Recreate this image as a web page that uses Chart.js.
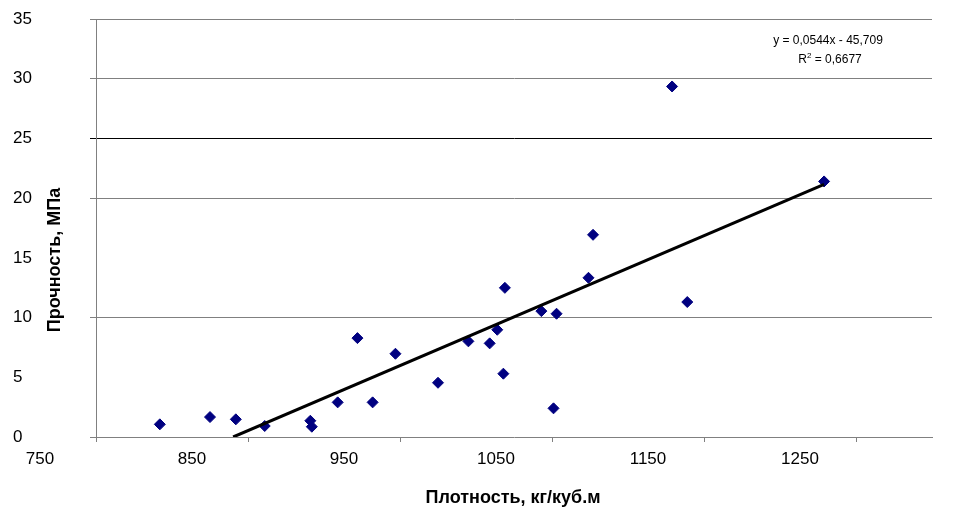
<!DOCTYPE html>
<html>
<head>
<meta charset="utf-8">
<script src="https://cdn.jsdelivr.net/npm/chart.js@4.4.1/dist/chart.umd.min.js"></script>
<style>
  html, body { margin: 0; padding: 0; background: #fff; }
  #wrap { width: 975px; height: 514px; }
</style>
</head>
<body>
<div id="wrap"><canvas id="chart"></canvas></div>
<script>
// density (kg/m3) and strength (MPa)
const density = [792, 825, 842, 861, 891, 892, 909, 922, 932, 947, 975, 995,
  1009, 1014, 1019, 1018, 1043, 1053, 1051, 1074, 1077, 1139, 1129, 1229];
const strength = [1.06, 1.67, 1.48, 0.92, 1.36, 0.86, 2.9, 8.28, 2.9, 6.97, 4.54, 8.01,
  7.84, 8.98, 12.49, 5.3, 10.54, 10.32, 2.4, 13.33, 16.93, 11.3, 29.35, 21.4];

const xTicks = [750, 850, 950, 1050, 1150, 1250];
const yGridShown = [10, 20, 25, 30, 35];

// linear trend as printed on the chart
const slope = 0.0544;
const intercept = -45.709;
const eqText = "y = 0,0544x - 45,709";
const r2Text = " = 0,6677";

const xTitle = "Плотность, кг/куб.м";
const yTitle = "Прочность, МПа";

const FONT = "'Liberation Sans', Arial, sans-serif";

const points = density.map((x, i) => ({ x: x, y: strength[i] }));
const trendFrom = Math.max(Math.min(...density), -intercept / slope);
const trendTo = Math.max(...density);
const trend = [trendFrom, trendTo].map(x => ({ x: x, y: slope * x + intercept }));

const labelsPlugin = {
  id: "labels",
  afterDraw(chart) {
    const ctx = chart.ctx;
    ctx.save();
    ctx.fillStyle = "#000";
    ctx.font = "bold 18px " + FONT;
    ctx.textAlign = "center";
    ctx.textBaseline = "middle";
    ctx.fillText(xTitle, 513, 498);

    ctx.translate(55, 260);
    ctx.rotate(-Math.PI / 2);
    ctx.fillText(yTitle, 0, 0);
    ctx.restore();

    ctx.save();
    ctx.fillStyle = "#000";
    ctx.font = "12px " + FONT;
    ctx.textBaseline = "middle";
    ctx.textAlign = "center";
    ctx.fillText(eqText, 828, 41);
    const w1 = ctx.measureText("R").width;
    const w3 = ctx.measureText(r2Text).width;
    ctx.font = "8px " + FONT;
    const w2 = ctx.measureText("2").width;
    const left = 830 - (w1 + w2 + w3) / 2;
    ctx.textAlign = "left";
    ctx.fillText("2", left + w1, 56);
    ctx.font = "12px " + FONT;
    ctx.fillText("R", left, 60);
    ctx.fillText(r2Text, left + w1 + w2, 60);
    ctx.restore();
  }
};

new Chart(document.getElementById("chart").getContext("2d"), {
  type: "scatter",
  data: {
    datasets: [
      {
        data: trend,
        type: "line",
        showLine: true,
        borderColor: "#000",
        borderWidth: 3,
        pointRadius: 0,
        order: 0,
      },
      {
        data: points,
        pointStyle: "rectRot",
        pointRadius: 5.5,
        backgroundColor: "#000080",
        borderColor: "#000080",
        borderWidth: 1,
        order: 1,
      },
    ],
  },
  options: {
    responsive: true,
    maintainAspectRatio: false,
    animation: false,
    layout: {
      padding: { left: 13, right: 43, top: 19, bottom: 0 },
    },
    plugins: {
      legend: { display: false },
      tooltip: { enabled: false },
    },
    scales: {
      x: {
        type: "linear",
        min: 750,
        max: 1300,
        afterBuildTicks: s => { s.ticks = xTicks.map(v => ({ value: v })); },
        afterFit: s => { s.height = 77; },
        border: { color: "#808080", width: 1 },
        grid: {
          drawOnChartArea: false,
          drawTicks: true,
          tickLength: 5,
          color: "#808080",
        },
        ticks: {
          color: "#000",
          font: { family: FONT, size: 17 },
          padding: 7,
          labelOffset: -56,
          maxRotation: 0,
          callback: v => String(v),
        },
      },
      y: {
        min: 0,
        max: 35,
        afterFit: s => { s.width = 83; },
        border: { color: "#808080", width: 1 },
        grid: {
          tickLength: 6,
          color: c => c.tick.value === 25 ? "#000" :
            (yGridShown.includes(c.tick.value) ? "#808080" : "rgba(0,0,0,0)"),
          tickColor: c => c.tick.value === 25 ? "#000" :
            (yGridShown.includes(c.tick.value) || c.tick.value === 0 ? "#808080" : "rgba(0,0,0,0)"),
        },
        ticks: {
          stepSize: 5,
          crossAlign: "far",
          color: "#000",
          font: { family: FONT, size: 17 },
        },
      },
    },
  },
  plugins: [labelsPlugin],
});
</script>
</body>
</html>
